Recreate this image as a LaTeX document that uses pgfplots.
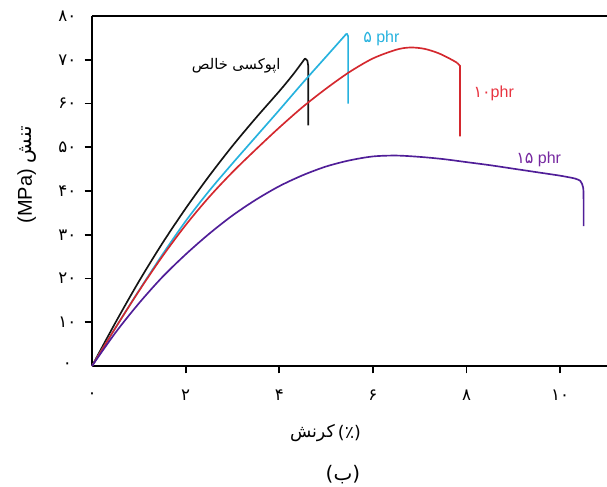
\documentclass[border=0pt]{standalone}
\usepackage{fontspec}
\setmainfont{Liberation Sans}
\newfontfamily\fa[Script=Arabic]{DejaVu Sans}
\TeXXeTstate=1
\usepackage{pgfplots}
\pgfplotsset{compat=1.18}
\usetikzlibrary{calc}

\definecolor{cpure}{RGB}{20,20,20}
\definecolor{cfive}{RGB}{38,178,222}
\definecolor{cten}{RGB}{212,40,46}
\definecolor{ctenlab}{RGB}{232,52,64}
\definecolor{cfifteen}{RGB}{80,30,152}
\definecolor{cfifteenlab}{RGB}{118,40,160}

\begin{document}
\begin{tikzpicture}
\begin{axis}[
  name=main,
  width=386.25pt, height=262.5pt, scale only axis,
  xmin=0, xmax=11, ymin=0, ymax=80,
  axis x line*=box, axis y line*=left,
  xtick pos=left, ytick pos=left,
  tick align=outside, major tick length=5.5pt,
  axis line style={line width=1.4pt},
  tick style={line width=1.3pt, black},
  xtick={2,4,6,8,10},
  xticklabels={۲,۴,۶,۸,۱۰},
  extra x ticks={0}, extra x tick labels={۰},
  extra x tick style={tick style={draw=none}},
  ytick={10,20,30,40,50,60,70},
  yticklabels={۱۰,۲۰,۳۰,۴۰,۵۰,۶۰,۷۰},
  extra y ticks={0,80}, extra y tick labels={۰,۸۰},
  extra y tick style={tick style={draw=none}},
  xticklabel style={font=\fa\fontsize{12.5}{14}\selectfont, anchor=center, yshift=-16.5pt},
  yticklabel style={font=\fa\fontsize{12.5}{14}\selectfont, anchor=center, xshift=-13pt},
  every axis plot/.append style={line width=1.25pt},
  clip=false,
]
% pure epoxy
\addplot[cpure, smooth, tension=0.5] coordinates {
  (0,0) (0.5,9.9) (1,19.3) (1.5,28) (2,36) (2.5,43.4) (3,50.3)
  (3.5,56.7) (4,62.8) (4.3,66.7) (4.55,70.3)};
\addplot[cpure] coordinates {
  (4.55,70.3) (4.6,69.8) (4.62,68.5) (4.62,55)};
% 5 phr
\addplot[cfive, smooth, tension=0.5] coordinates {
  (0,0) (0.5,8.7) (1,17.2) (1.5,25.4) (2,33.1) (2.5,40) (3,46.3)
  (3.5,52.4) (4,58.5) (4.5,64.7) (5,70.7) (5.44,76)};
\addplot[cfive] coordinates {
  (5.44,76) (5.47,75.4) (5.47,60)};
% 10 phr
\addplot[cten, smooth, tension=0.5] coordinates {
  (0,0) (0.5,8.7) (1,17.1) (1.5,25) (2,32.2) (2.5,38.6) (3,44.3)
  (3.5,49.5) (4,54.5) (4.5,59.2) (5,63.4) (5.5,67.2) (6,70.3) (6.5,72.3)
  (6.8,72.8) (7.1,72.5) (7.4,71.5) (7.65,70.2) (7.8,69.3)};
\addplot[cten] coordinates {
  (7.8,69.3) (7.86,68.6) (7.86,52.5)};
% 15 phr
\addplot[cfifteen, smooth, tension=0.5] coordinates {
  (0,0) (0.5,7.6) (1,14.3) (1.5,20.3) (2,25.5) (2.5,30.2) (3,34.4)
  (3.5,38) (4,41.1) (4.5,43.6) (5,45.6) (5.5,47) (6,47.9) (6.5,48.1)
  (7,47.8) (7.5,47.3) (8,46.6) (8.5,45.9) (9,45.1) (9.5,44.3) (10,43.5)
  (10.3,42.9)};
\addplot[cfifteen, smooth, tension=0.5] coordinates {
  (10.3,42.9) (10.43,42.3) (10.49,40.8) (10.5,38) (10.5,32)};

% curve labels
\node[font=\fa\fontsize{11}{13}\selectfont] at (axis cs:3.08,68.6) {\beginR اپوکسی خالص\endR};
\node[cfive, font=\fontsize{12}{14}\selectfont] at (axis cs:6.18,74.9) {{\fa ۵} phr};
\node[ctenlab, font=\fontsize{12}{14}\selectfont] at (axis cs:8.58,62.4) {{\fa ۱۰}phr};
\node[cfifteenlab, font=\fontsize{12}{14}\selectfont] at (axis cs:9.54,47.3) {{\fa ۱۵} phr};

% axis titles
\node[rotate=90, font=\fontsize{15}{17}\selectfont] at ($(axis cs:0,43.7)+(-48.75pt,0)$)
  {(MPa) {\fa\beginR تنش\endR}};
\node[anchor=east, font=\fa\fontsize{13}{15}\selectfont, inner xsep=1pt] at ($(axis cs:5.22,0)+(0,-50.25pt)$)
  {\beginR کرنش\endR};
\node[anchor=west, font=\fa\fontsize{13}{15}\selectfont, inner xsep=1pt] at ($(axis cs:5.22,0)+(0,-50.25pt)$)
  {(٪)};
\node[font=\fa\fontsize{15}{17}\selectfont] at ($(axis cs:5.36,0)+(0,-81.75pt)$) {(ب)};
\end{axis}
\pgfresetboundingbox
\useasboundingbox ($(main.south west)+(-69pt,-90pt)$) rectangle ($(main.north east)+(0,12pt)$);
\end{tikzpicture}
\end{document}
